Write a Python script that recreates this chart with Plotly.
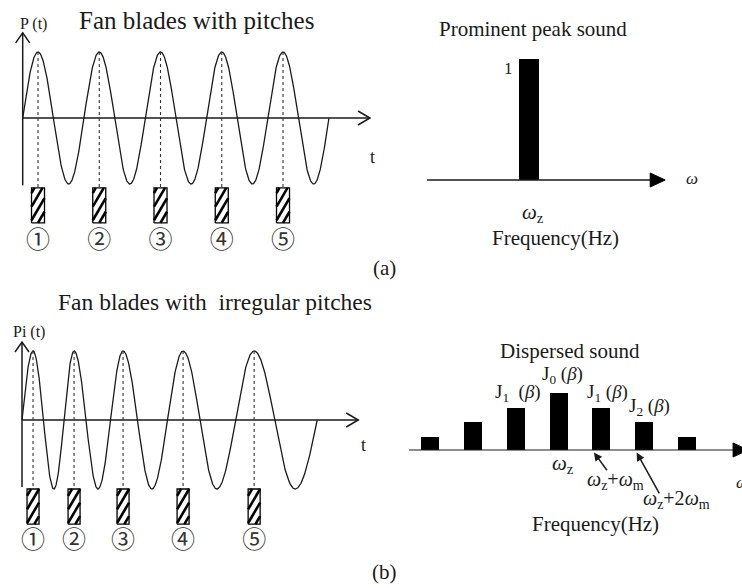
import numpy as np
import plotly.graph_objects as go

W, H = 742, 588
SERIF = "Liberation Serif, Times New Roman, serif"
INK = "#1a1a1a"

# ---- data -------------------------------------------------------------
# regular pitch: blade passing times (in rotation periods) and wave length
reg_blade_t = [0.25, 1.25, 2.25, 3.25, 4.25]
reg_cycles = 5

# irregular pitch: times of the pressure peaks / troughs
irr_peak_t = [0.18, 0.85, 1.65, 2.63, 3.79]
irr_trough_t = [0.52, 1.24, 2.12, 3.18, 4.46]
irr_end_t = 4.82

blade_labels = ["①", "②", "③", "④", "⑤"]

# spectra (frequency in units of the modulation frequency, around omega_z)
peak_freq = [0]
peak_amp = [1.0]
side_freq = [-3, -2, -1, 0, 1, 2, 3]
side_amp = [0.11, 0.23, 0.35, 0.47, 0.35, 0.23, 0.11]
bessel_freq = [-1, 0, 1, 2]
bessel_text = ["J<sub>1</sub>  (<i>β</i>)", "J<sub>0</sub> (<i>β</i>)",
               "J<sub>1</sub> (<i>β</i>)", "J<sub>2</sub> (<i>β</i>)"]

# ---- panel geometry (page pixels) ---------------------------------------
panels = [
    dict(px=(0, 385), py=(0, 262), ox=22.7, sx=61.25, oy=118, sy=66),     # (a) wave
    dict(px=(385, 742), py=(0, 262), ox=529, sx=42.7, oy=180, sy=121),    # (a) spectrum
    dict(px=(0, 385), py=(262, 588), ox=22, sx=61.25, oy=420, sy=69),     # (b) wave
    dict(px=(385, 742), py=(262, 588), ox=558.5, sx=42.7, oy=450, sy=121),  # (b) spectrum
]

fig = go.Figure()
layout_axes = {}
for i, p in enumerate(panels, start=1):
    sfx = "" if i == 1 else str(i)
    x0, x1 = p["px"]
    y0, y1 = p["py"]
    layout_axes["xaxis" + sfx] = dict(
        domain=[x0 / W, x1 / W],
        range=[(x0 - p["ox"]) / p["sx"], (x1 - p["ox"]) / p["sx"]],
        visible=False, fixedrange=True, anchor="y" + sfx)
    layout_axes["yaxis" + sfx] = dict(
        domain=[1 - y1 / H, 1 - y0 / H],
        range=[(p["oy"] - y1) / p["sy"], (p["oy"] - y0) / p["sy"]],
        visible=False, fixedrange=True, anchor="x" + sfx)


def refs(i):
    s = "" if i == 1 else str(i)
    return "x" + s, "y" + s


def line(i, xs, ys, width=1.4, color=INK, dash=None, fill=None):
    xr, yr = refs(i)
    fig.add_trace(go.Scatter(
        x=xs, y=ys, mode="lines", xaxis=xr, yaxis=yr, hoverinfo="skip",
        line=dict(color=color, width=width, dash=dash),
        fill=fill, fillcolor=color if fill else None, showlegend=False))


def open_arrow(i, x0, y0, x1, y1, horizontal=True):
    """Axis line ending in an open chevron."""
    p = panels[i - 1]
    line(i, [x0, x1], [y0, y1], width=1.5)
    if horizontal:
        ddx, ddy = 12 / p["sx"], 7 / p["sy"]
        line(i, [x1 - ddx, x1, x1 - ddx], [y1 + ddy, y1, y1 - ddy], width=1.5)
    else:
        ddx, ddy = 7 / p["sx"], 10 / p["sy"]
        line(i, [x1 - ddx, x1, x1 + ddx], [y1 - ddy, y1, y1 - ddy], width=1.5)


def solid_arrow(i, x0, x1, width=1.3):
    """Horizontal axis ending in a filled triangle."""
    p = panels[i - 1]
    line(i, [x0, x1 - 10 / p["sx"]], [0, 0], width=width)
    ddx, ddy = 15 / p["sx"], 7 / p["sy"]
    line(i, [x1 - ddx, x1, x1 - ddx, x1 - ddx], [ddy, 0, -ddy, ddy],
         width=1, color="black", fill="toself")


def blades(i, times, bottom, top, width_px, step_px=8.0, slope=1.7):
    """White blade boxes with bold '/' hatching and dotted drop lines."""
    p = panels[i - 1]
    xr, yr = refs(i)
    half = width_px / 2 / p["sx"]
    fig.add_trace(go.Bar(
        x=times, y=[top - bottom] * len(times), base=[bottom] * len(times),
        width=2 * half, xaxis=xr, yaxis=yr, hoverinfo="skip",
        marker=dict(color="white", line=dict(width=0)), showlegend=False))
    # hatch strokes: lines v = slope * (u - c) in pixel units, clipped to each box
    hx, hy = [], []
    h_px = (top - bottom) * p["sy"]
    for t in times:
        for c in np.arange(-h_px / slope - width_px, width_px, step_px):
            va = max(0.0, slope * (0 - c))
            vb = min(h_px, slope * (width_px - c))
            if vb - va < 1.0:
                continue
            for v in (va, vb):
                hx.append(t - half + (c + v / slope) / p["sx"])
                hy.append(bottom + v / p["sy"])
            hx.append(None)
            hy.append(None)
    line(i, hx, hy, width=2.6, color="black")
    # box outline
    ox, oy = [], []
    for t in times:
        ox += [t - half, t + half, t + half, t - half, t - half, None]
        oy += [bottom, bottom, top, top, bottom, None]
    line(i, ox, oy, width=1.3, color="black")
    # dotted drop lines from each pressure peak to its blade
    xs, ys = [], []
    for t in times:
        xs += [t, t, None]
        ys += [1, top, None]
    line(i, xs, ys, width=1.1, color="#333", dash="dot")


def circled(i, times, y):
    xr, yr = refs(i)
    fig.add_trace(go.Scatter(
        x=times, y=[y] * len(times), mode="text", text=blade_labels,
        textfont=dict(family="Noto Sans CJK JP", size=24, color="#333"),
        xaxis=xr, yaxis=yr, hoverinfo="skip", showlegend=False))


annotations = []


def text(s, x, y, size=17, ref=None, italic=False, **kw):
    if ref is None:
        xr, yr = "paper", "paper"
        x, y = x / W, 1 - y / H
    else:
        xr, yr = refs(ref)
    if italic:
        s = "<i>" + s + "</i>"
    kw.setdefault("xanchor", "center")
    kw.setdefault("yanchor", "middle")
    annotations.append(dict(text=s, x=x, y=y, xref=xr, yref=yr, showarrow=False,
                            font=dict(family=SERIF, size=size, color=INK), **kw))


# ---- (a) regular pitch waveform ---------------------------------------
t = np.linspace(0, reg_cycles, 800)
line(1, t, np.sin(2 * np.pi * t), width=1.3)
open_arrow(1, 0, -1.02, 0, 1.29, horizontal=False)
open_arrow(1, 0, 0, 5.67, 0)
blades(1, reg_blade_t, -1.59, -1.06, 13)
circled(1, reg_blade_t, -1.88)
text("Fan blades with pitches", 196, 20, size=25)
text("P (t)", 33, 24, size=16)
text("t", 372, 157, size=18)

# ---- (a) spectrum ----------------------------------------------------
fig.add_trace(go.Bar(x=peak_freq, y=peak_amp, width=20 / 42.7, xaxis="x2", yaxis="y2",
                     marker=dict(color="black", line=dict(width=0)),
                     hoverinfo="skip", showlegend=False))
solid_arrow(2, -2.39, 3.19)
text("Prominent peak sound", 533, 29, size=21)
text("1", -0.49, 0.92, size=17, ref=2)
text("<i>ω</i><sub>z</sub>", 0.1, -0.27, size=21, ref=2)
text("Frequency(Hz)", 555, 238, size=21)
text("ω", 692, 178, size=17, italic=True)
text("(a)", 384, 268, size=21)

# ---- (b) irregular pitch waveform ------------------------------------
knot_t = [0.0] + sorted(irr_peak_t + irr_trough_t) + [irr_end_t]
knot_phase = [0.0] + [np.pi / 2 + k * np.pi for k in range(len(knot_t) - 2)] + [2 * np.pi * 5]
tb = np.linspace(0, irr_end_t, 900)
line(3, tb, np.sin(np.interp(tb, knot_t, knot_phase)), width=1.3)
open_arrow(3, 0, -0.97, 0, 1.13, horizontal=False)
open_arrow(3, 0, 0, 5.49, 0)
blades(3, irr_peak_t, -1.51, -1.0, 12)
circled(3, irr_peak_t, -1.77)
text("Fan blades with  irregular pitches", 215, 302, size=23.5)
text("Pi (t)", 29, 332, size=16)
text("t", 363, 445, size=18)

# ---- (b) spectrum ----------------------------------------------------
fig.add_trace(go.Bar(x=side_freq, y=side_amp, width=18 / 42.7, xaxis="x4", yaxis="y4",
                     marker=dict(color="black", line=dict(width=0)),
                     hoverinfo="skip", showlegend=False))
solid_arrow(4, -3.5, 4.44, width=1.0)
amp_of = dict(zip(side_freq, side_amp))
for f, s in zip(bessel_freq, bessel_text):
    annotations.append(dict(text=s, x=f, y=amp_of[f], xref="x4", yref="y4", showarrow=False,
                            xanchor="center", yanchor="bottom",
                            yshift=4 if f == 0 else 1,
                            xshift=2 if f < 0 else (6 if f > 0 else 4),
                            font=dict(family=SERIF, size=19, color=INK)))
text("Dispersed sound", 570, 351, size=21)
text("<i>ω</i><sub>z</sub>", 563, 464, size=21)
text("<i>ω</i><sub>z</sub>+<i>ω</i><sub>m</sub>", 615, 480, size=20)
text("<i>ω</i><sub>z</sub>+2<i>ω</i><sub>m</sub>", 676, 500, size=20)
text("Frequency(Hz)", 595, 524, size=21)
text("ω", 742, 482, size=17, italic=True)
text("(b)", 384, 572, size=21)
for f, tail in [(1, (1.16, -0.18)), (2, (2.38, -0.37))]:
    annotations.append(dict(x=f - 0.17, y=-0.02, ax=tail[0], ay=tail[1],
                            xref="x4", yref="y4", axref="x4", ayref="y4",
                            text="", showarrow=True, arrowhead=2, arrowsize=1.1,
                            arrowwidth=1.5, arrowcolor=INK))

fig.update_layout(
    width=W, height=H, margin=dict(l=0, r=0, t=0, b=0),
    paper_bgcolor="white", plot_bgcolor="rgba(0,0,0,0)",
    showlegend=False, bargap=0, barmode="overlay",
    annotations=annotations, **layout_axes)

fig.write_html("out.html")
